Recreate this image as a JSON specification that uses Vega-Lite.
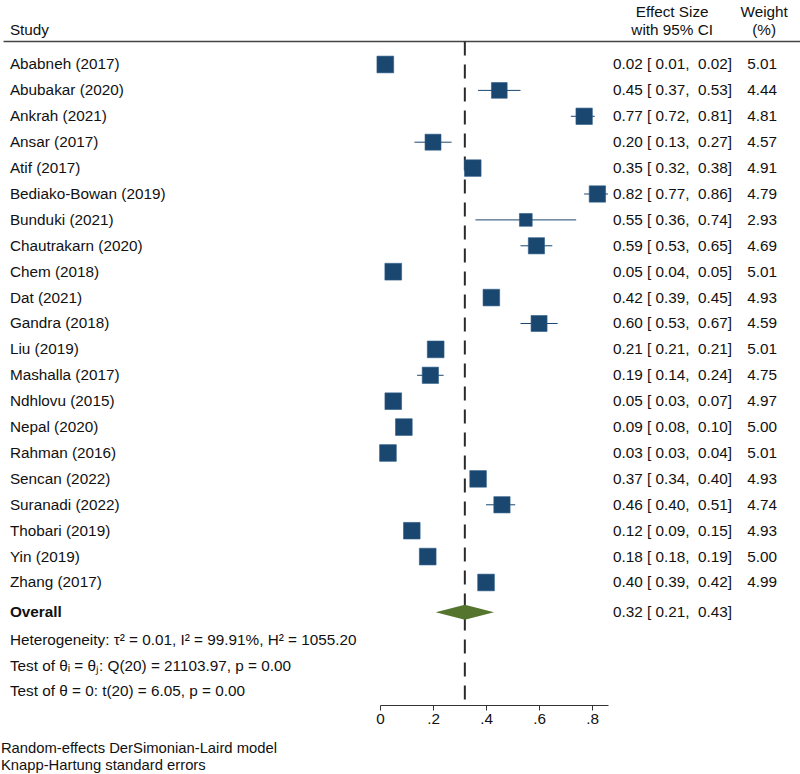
{
  "$schema": "https://vega.github.io/schema/vega-lite/v6.json",
  "width": 228,
  "height": 705,
  "autosize": {"type": "none"},
  "padding": {"left": 380, "right": 192, "top": 0, "bottom": 69},
  "background": "white",
  "config": {
    "view": {"stroke": null},
    "font": "Liberation Sans",
    "text": {"font": "Liberation Sans", "fontSize": 15.3, "color": "#111111", "baseline": "middle"},
    "axis": {"grid": false, "title": null}
  },
  "datasets": {
    "studies": [
      {"i": 0, "study": "Ababneh (2017)", "es": 0.02, "lo": 0.01, "hi": 0.02, "w": 5.01, "txt": "0.02 [ 0.01,\u00a0 0.02]", "wt": "5.01"},
      {"i": 1, "study": "Abubakar (2020)", "es": 0.45, "lo": 0.37, "hi": 0.53, "w": 4.44, "txt": "0.45 [ 0.37,\u00a0 0.53]", "wt": "4.44"},
      {"i": 2, "study": "Ankrah (2021)", "es": 0.77, "lo": 0.72, "hi": 0.81, "w": 4.81, "txt": "0.77 [ 0.72,\u00a0 0.81]", "wt": "4.81"},
      {"i": 3, "study": "Ansar (2017)", "es": 0.20, "lo": 0.13, "hi": 0.27, "w": 4.57, "txt": "0.20 [ 0.13,\u00a0 0.27]", "wt": "4.57"},
      {"i": 4, "study": "Atif (2017)", "es": 0.35, "lo": 0.32, "hi": 0.38, "w": 4.91, "txt": "0.35 [ 0.32,\u00a0 0.38]", "wt": "4.91"},
      {"i": 5, "study": "Bediako-Bowan (2019)", "es": 0.82, "lo": 0.77, "hi": 0.86, "w": 4.79, "txt": "0.82 [ 0.77,\u00a0 0.86]", "wt": "4.79"},
      {"i": 6, "study": "Bunduki (2021)", "es": 0.55, "lo": 0.36, "hi": 0.74, "w": 2.93, "txt": "0.55 [ 0.36,\u00a0 0.74]", "wt": "2.93"},
      {"i": 7, "study": "Chautrakarn (2020)", "es": 0.59, "lo": 0.53, "hi": 0.65, "w": 4.69, "txt": "0.59 [ 0.53,\u00a0 0.65]", "wt": "4.69"},
      {"i": 8, "study": "Chem (2018)", "es": 0.05, "lo": 0.04, "hi": 0.05, "w": 5.01, "txt": "0.05 [ 0.04,\u00a0 0.05]", "wt": "5.01"},
      {"i": 9, "study": "Dat (2021)", "es": 0.42, "lo": 0.39, "hi": 0.45, "w": 4.93, "txt": "0.42 [ 0.39,\u00a0 0.45]", "wt": "4.93"},
      {"i": 10, "study": "Gandra (2018)", "es": 0.60, "lo": 0.53, "hi": 0.67, "w": 4.59, "txt": "0.60 [ 0.53,\u00a0 0.67]", "wt": "4.59"},
      {"i": 11, "study": "Liu (2019)", "es": 0.21, "lo": 0.21, "hi": 0.21, "w": 5.01, "txt": "0.21 [ 0.21,\u00a0 0.21]", "wt": "5.01"},
      {"i": 12, "study": "Mashalla (2017)", "es": 0.19, "lo": 0.14, "hi": 0.24, "w": 4.75, "txt": "0.19 [ 0.14,\u00a0 0.24]", "wt": "4.75"},
      {"i": 13, "study": "Ndhlovu (2015)", "es": 0.05, "lo": 0.03, "hi": 0.07, "w": 4.97, "txt": "0.05 [ 0.03,\u00a0 0.07]", "wt": "4.97"},
      {"i": 14, "study": "Nepal (2020)", "es": 0.09, "lo": 0.08, "hi": 0.10, "w": 5.00, "txt": "0.09 [ 0.08,\u00a0 0.10]", "wt": "5.00"},
      {"i": 15, "study": "Rahman (2016)", "es": 0.03, "lo": 0.03, "hi": 0.04, "w": 5.01, "txt": "0.03 [ 0.03,\u00a0 0.04]", "wt": "5.01"},
      {"i": 16, "study": "Sencan (2022)", "es": 0.37, "lo": 0.34, "hi": 0.40, "w": 4.93, "txt": "0.37 [ 0.34,\u00a0 0.40]", "wt": "4.93"},
      {"i": 17, "study": "Suranadi (2022)", "es": 0.46, "lo": 0.40, "hi": 0.51, "w": 4.74, "txt": "0.46 [ 0.40,\u00a0 0.51]", "wt": "4.74"},
      {"i": 18, "study": "Thobari (2019)", "es": 0.12, "lo": 0.09, "hi": 0.15, "w": 4.93, "txt": "0.12 [ 0.09,\u00a0 0.15]", "wt": "4.93"},
      {"i": 19, "study": "Yin (2019)", "es": 0.18, "lo": 0.18, "hi": 0.19, "w": 5.00, "txt": "0.18 [ 0.18,\u00a0 0.19]", "wt": "5.00"},
      {"i": 20, "study": "Zhang (2017)", "es": 0.40, "lo": 0.39, "hi": 0.42, "w": 4.99, "txt": "0.40 [ 0.39,\u00a0 0.42]", "wt": "4.99"}
    ],
    "diamond": [
      {"x": 0.21, "top": 21.15, "bot": 21.15},
      {"x": 0.32, "top": 20.86, "bot": 21.44},
      {"x": 0.43, "top": 21.15, "bot": 21.15}
    ],
    "stats": [
      {"i": 22.22, "t": "Heterogeneity: τ² = 0.01, I² = 99.91%, H² = 1055.20"},
      {"i": 23.22, "t": "Test of θᵢ = θⱼ: Q(20) = 21103.97, p = 0.00"},
      {"i": 24.19, "t": "Test of θ = 0: t(20) = 6.05, p = 0.00"}
    ],
    "notes": [
      {"i": 26.42, "t": "Random-effects DerSimonian-Laird model"},
      {"i": 27.1, "t": "Knapp-Hartung standard errors"}
    ]
  },
  "encoding": {
    "x": {
      "type": "quantitative",
      "scale": {"domain": [0, 0.86], "nice": false, "zero": false},
      "axis": {
        "values": [0, 0.2, 0.4, 0.6, 0.8],
        "labelExpr": "datum.value == 0 ? '0' : replace(format(datum.value, '.1f'), '0.', '.')",
        "domainColor": "#333333",
        "domainWidth": 1.2,
        "tickColor": "#333333",
        "tickSize": 5,
        "labelFont": "Liberation Sans",
        "labelFontSize": 15.3,
        "labelColor": "#111111",
        "labelPadding": 1,
        "labelFlush": false,
        "labelOverlap": false
      }
    },
    "y": {
      "type": "quantitative",
      "scale": {"domain": [-2.49, 24.73], "reverse": true, "nice": false, "zero": false},
      "axis": null
    }
  },
  "layer": [
    {
      "data": {"values": [{"a": 1}]},
      "mark": {"type": "rule", "color": "#444444", "strokeWidth": 1.5},
      "encoding": {
        "x": {"datum": -1.42, "type": "quantitative"},
        "x2": {"datum": 1.585},
        "y": {"datum": -0.89, "type": "quantitative"}
      }
    },
    {
      "data": {"values": [{"a": 1}]},
      "mark": {"type": "rule", "color": "#2a2a2a", "strokeWidth": 2, "strokeDash": [14, 9]},
      "encoding": {
        "x": {"datum": 0.32, "type": "quantitative"},
        "y": {"datum": -0.89, "type": "quantitative"},
        "y2": {"datum": 24.73}
      }
    },
    {
      "data": {"name": "studies"},
      "mark": {"type": "rule", "color": "#1a476f", "strokeWidth": 1},
      "encoding": {
        "x": {"field": "lo", "type": "quantitative"},
        "x2": {"field": "hi"},
        "y": {"field": "i", "type": "quantitative"}
      }
    },
    {
      "data": {"name": "studies"},
      "mark": {"type": "point", "shape": "square", "filled": true, "opacity": 1, "color": "#1a476f", "stroke": "#2c5c88", "strokeWidth": 0.6},
      "encoding": {
        "x": {"field": "es", "type": "quantitative"},
        "y": {"field": "i", "type": "quantitative"},
        "size": {"field": "w", "type": "quantitative", "scale": {"type": "linear", "domain": [0, 5.01], "range": [0, 280], "zero": true}, "legend": null}
      }
    },
    {
      "data": {"name": "diamond"},
      "mark": {"type": "area", "orient": "vertical", "color": "#55752f", "opacity": 1, "interpolate": "linear"},
      "encoding": {
        "x": {"field": "x", "type": "quantitative"},
        "y": {"field": "top", "type": "quantitative"},
        "y2": {"field": "bot"}
      }
    },
    {
      "data": {"name": "studies"},
      "mark": {"type": "text", "align": "left"},
      "encoding": {
        "x": {"datum": -1.396, "type": "quantitative"},
        "y": {"field": "i", "type": "quantitative"},
        "text": {"field": "study"}
      }
    },
    {
      "data": {"name": "studies"},
      "mark": {"type": "text", "align": "left"},
      "encoding": {
        "x": {"datum": 0.879, "type": "quantitative"},
        "y": {"field": "i", "type": "quantitative"},
        "text": {"field": "txt"}
      }
    },
    {
      "data": {"name": "studies"},
      "mark": {"type": "text", "align": "center"},
      "encoding": {
        "x": {"datum": 1.4415, "type": "quantitative"},
        "y": {"field": "i", "type": "quantitative"},
        "text": {"field": "wt"}
      }
    },
    {
      "data": {"values": [{"t": "Overall"}]},
      "mark": {"type": "text", "align": "left", "fontWeight": "bold"},
      "encoding": {
        "x": {"datum": -1.396, "type": "quantitative"},
        "y": {"datum": 21.12, "type": "quantitative"},
        "text": {"field": "t"}
      }
    },
    {
      "data": {"values": [{"t": "0.32 [ 0.21,\u00a0 0.43]"}]},
      "mark": {"type": "text", "align": "left"},
      "encoding": {
        "x": {"datum": 0.879, "type": "quantitative"},
        "y": {"datum": 21.12, "type": "quantitative"},
        "text": {"field": "t"}
      }
    },
    {
      "data": {"name": "stats"},
      "mark": {"type": "text", "align": "left"},
      "encoding": {
        "x": {"datum": -1.396, "type": "quantitative"},
        "y": {"field": "i", "type": "quantitative"},
        "text": {"field": "t"}
      }
    },
    {
      "data": {"name": "notes"},
      "mark": {"type": "text", "align": "left", "fontSize": 14.8},
      "encoding": {
        "x": {"datum": -1.43, "type": "quantitative"},
        "y": {"field": "i", "type": "quantitative"},
        "text": {"field": "t"}
      }
    },
    {
      "data": {"values": [{"t": "Study"}]},
      "mark": {"type": "text", "align": "left"},
      "encoding": {
        "x": {"datum": -1.396, "type": "quantitative"},
        "y": {"datum": -1.33, "type": "quantitative"},
        "text": {"field": "t"}
      }
    },
    {
      "data": {"values": [{"t": "Effect Size", "i": -2.03}, {"t": "with 95% CI", "i": -1.33}]},
      "mark": {"type": "text", "align": "center"},
      "encoding": {
        "x": {"datum": 1.102, "type": "quantitative"},
        "y": {"field": "i", "type": "quantitative"},
        "text": {"field": "t"}
      }
    },
    {
      "data": {"values": [{"t": "Weight", "i": -2.03}, {"t": "(%)", "i": -1.33}]},
      "mark": {"type": "text", "align": "center"},
      "encoding": {
        "x": {"datum": 1.449, "type": "quantitative"},
        "y": {"field": "i", "type": "quantitative"},
        "text": {"field": "t"}
      }
    }
  ]
}
